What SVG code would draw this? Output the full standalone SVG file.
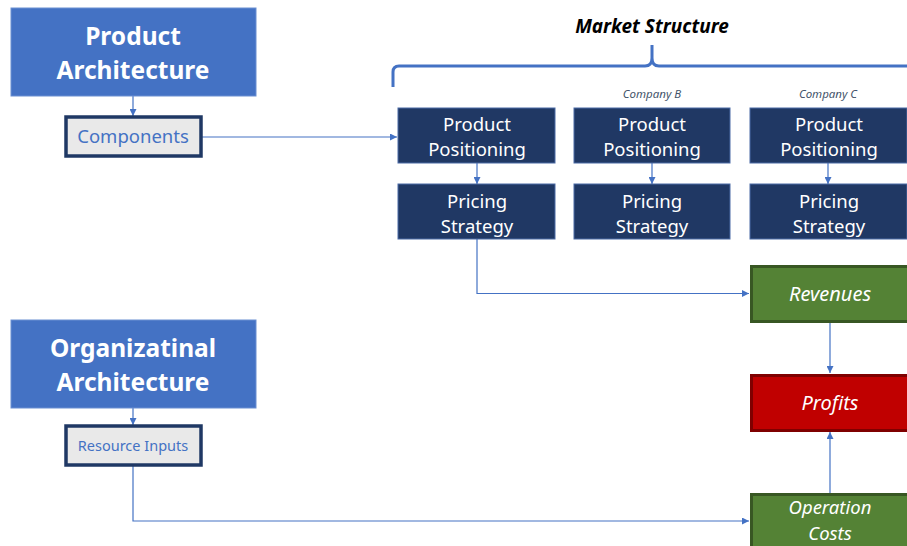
<svg xmlns="http://www.w3.org/2000/svg" width="907" height="546" viewBox="0 0 907 546">
  <style>
    text { font-family: "Noto Sans", "Open Sans", sans-serif; text-anchor: middle; }
    .arch rect { fill: #4472C4; stroke: #6A8FD2; stroke-width: 1; }
    .arch text { fill: #ffffff; font-size: 24.5px; font-weight: bold; }
    .sub rect { fill: #E9E9E9; stroke: #1F3864; stroke-width: 3.5; }
    .sub text { fill: #4472C4; }
    .navy rect { fill: #203864; stroke: #4A6AA5; stroke-width: 1; }
    .navy text { fill: #ffffff; font-size: 18.5px; }
    .green rect { fill: #548235; stroke: #385723; stroke-width: 3; }
    .red rect { fill: #C00000; stroke: #7F0000; stroke-width: 3; }
    .fin text { fill: #ffffff; font-size: 20px; font-style: italic; }
    .fin text.two { font-size: 18.5px; }
    .company { fill: #44546A; font-size: 11.5px; font-style: italic; }
    .conn { fill: none; stroke: #4472C4; stroke-width: 1.2; }
  </style>
  <defs>
    <marker id="arrow" viewBox="0 0 10 10" refX="10" refY="5" markerWidth="7" markerHeight="7" markerUnits="userSpaceOnUse" orient="auto">
      <path d="M0,0 L10,5 L0,10 Z" fill="#4472C4"/>
    </marker>
  </defs>

  <rect width="907" height="546" fill="#ffffff"/>

  <!-- Market structure heading and brace -->
  <text x="652" y="33" font-size="19px" font-weight="bold" font-style="italic" fill="#000000">Market Structure</text>
  <path d="M393,87 L393,72 Q393,66 399,66 L645,66 Q652,66 652,58 L652,45 M652,58 Q652,66 659,66 L907,66" fill="none" stroke="#4472C4" stroke-width="3"/>
  <text class="company" x="652" y="98">Company B</text>
  <text class="company" x="828" y="98">Company C</text>

  <!-- Connectors -->
  <g id="connectors">
    <path class="conn" d="M133,96 L133,116" marker-end="url(#arrow)"/>
    <path class="conn" d="M202,137 L397,137" marker-end="url(#arrow)"/>
    <path class="conn" d="M477,163 L477,184" marker-end="url(#arrow)"/>
    <path class="conn" d="M652,163 L652,184" marker-end="url(#arrow)"/>
    <path class="conn" d="M828,163 L828,184" marker-end="url(#arrow)"/>
    <path class="conn" d="M477,239 L477,293.5 L749,293.5" marker-end="url(#arrow)"/>
    <path class="conn" d="M830,322 L830,373" marker-end="url(#arrow)"/>
    <path class="conn" d="M830,493 L830,432" marker-end="url(#arrow)"/>
    <path class="conn" d="M133,466 L133,521 L749,521" marker-end="url(#arrow)"/>
    <path class="conn" d="M133,408 L133,425" marker-end="url(#arrow)"/>
  </g>

  <!-- Left column -->
  <g id="product-architecture" class="arch">
    <rect x="11" y="8" width="245" height="88"/>
    <text x="133" y="45">Product</text>
    <text x="133" y="79">Architecture</text>
  </g>
  <g id="components" class="sub">
    <rect x="66" y="117" width="135" height="39"/>
    <text x="133" y="143" font-size="18.5px">Components</text>
  </g>
  <g id="organizational-architecture" class="arch">
    <rect x="11" y="320" width="245" height="88"/>
    <text x="133" y="357">Organizatinal</text>
    <text x="133" y="391">Architecture</text>
  </g>
  <g id="resource-inputs" class="sub">
    <rect x="66" y="426" width="135" height="39"/>
    <text x="133" y="451" font-size="14.5px">Resource Inputs</text>
  </g>

  <!-- Company columns -->
  <g id="positioning-a" class="navy">
    <rect x="398" y="108" width="157" height="55"/>
    <text x="477" y="131">Product</text>
    <text x="477" y="156">Positioning</text>
  </g>
  <g id="pricing-a" class="navy">
    <rect x="398" y="184" width="157" height="55"/>
    <text x="477" y="208">Pricing</text>
    <text x="477" y="233">Strategy</text>
  </g>
  <g id="positioning-b" class="navy">
    <rect x="574" y="108" width="156" height="55"/>
    <text x="652" y="131">Product</text>
    <text x="652" y="156">Positioning</text>
  </g>
  <g id="pricing-b" class="navy">
    <rect x="574" y="184" width="156" height="55"/>
    <text x="652" y="208">Pricing</text>
    <text x="652" y="233">Strategy</text>
  </g>
  <g id="positioning-c" class="navy">
    <rect x="750" y="108" width="157" height="55"/>
    <text x="829" y="131">Product</text>
    <text x="829" y="156">Positioning</text>
  </g>
  <g id="pricing-c" class="navy">
    <rect x="750" y="184" width="157" height="55"/>
    <text x="829" y="208">Pricing</text>
    <text x="829" y="233">Strategy</text>
  </g>

  <!-- Financial outcomes -->
  <g id="revenues" class="green fin">
    <rect x="751.5" y="266.5" width="158" height="55"/>
    <text x="830" y="301">Revenues</text>
  </g>
  <g id="profits" class="red fin">
    <rect x="751.5" y="375.5" width="158" height="55"/>
    <text x="830" y="410">Profits</text>
  </g>
  <g id="operation-costs" class="green fin">
    <rect x="751.5" y="494.5" width="158" height="60"/>
    <text class="two" x="830" y="514">Operation</text>
    <text class="two" x="830" y="540">Costs</text>
  </g>
</svg>
